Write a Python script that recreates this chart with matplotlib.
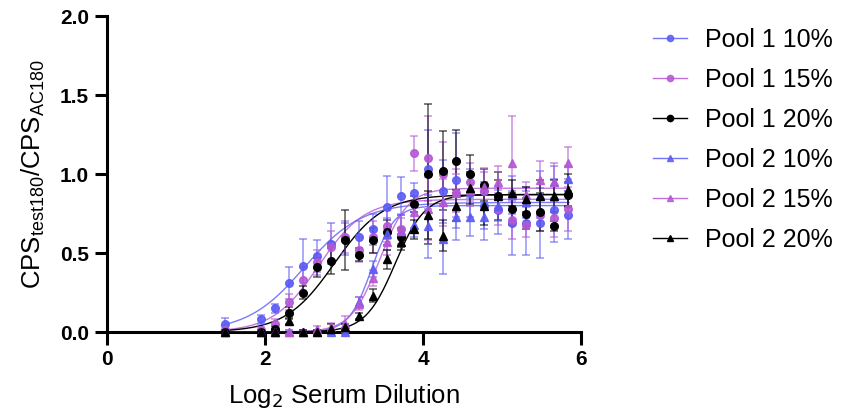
import numpy as np
import matplotlib.pyplot as plt

plt.rcParams['font.family'] = ['Liberation Sans', 'DejaVu Sans']

# log2 serum dilution (shared by all series)
x = [1.50, 1.95, 2.13, 2.30, 2.48, 2.66, 2.83, 3.01, 3.19, 3.37, 3.54, 3.72,
     3.89, 4.07, 4.25, 4.42, 4.60, 4.77, 4.95, 5.13, 5.30, 5.48, 5.66, 5.84]

labels = ['Pool 1 10%', 'Pool 1 15%', 'Pool 1 20%',
          'Pool 2 10%', 'Pool 2 15%', 'Pool 2 20%']

p1_10 = [0.05, 0.08, 0.15, 0.31, 0.42, 0.48, 0.56, 0.59, 0.60, 0.65, 0.79, 0.86,
         0.88, 1.03, 0.89, 0.96, 0.88, 0.80, 0.77, 0.69, 0.69, 0.69, 0.77, 0.74]
p1_15 = [0.01, 0.01, 0.05, 0.19, 0.33, 0.44, 0.54, 0.60, 0.52, 0.60, 0.67, 0.65,
         1.13, 1.10, 1.00, 0.88, 0.95, 0.89, 0.78, 0.71, 0.68, 0.74, 0.72, 0.78]
p1_20 = [0.00, 0.00, 0.02, 0.12, 0.25, 0.41, 0.45, 0.58, 0.49, 0.58, 0.63, 0.60,
         0.81, 1.00, 1.02, 1.08, 1.00, 0.93, 0.86, 0.78, 0.75, 0.76, 0.67, 0.87]
p2_10 = [0.00, 0.00, 0.00, 0.00, 0.00, 0.00, 0.00, 0.00, 0.19, 0.40, 0.62, 0.64,
         0.68, 0.67, 0.59, 0.73, 0.73, 0.73, 0.80, 0.87, 0.82, 0.87, 0.95, 0.97]
p2_15 = [0.00, 0.00, 0.00, 0.00, 0.00, 0.02, 0.03, 0.05, 0.18, 0.34, 0.57, 0.64,
         0.76, 0.78, 0.82, 0.88, 0.90, 0.92, 0.95, 1.07, 0.87, 0.96, 0.95, 1.07]
p2_20 = [0.00, 0.00, 0.00, 0.07, 0.00, 0.00, 0.02, 0.03, 0.10, 0.23, 0.46, 0.57,
         0.65, 0.74, 0.61, 0.80, 0.91, 0.80, 0.86, 0.88, 0.84, 0.86, 0.86, 0.90]

# error bars (SEM)
e1_10 = [0.04, 0.03, 0.03, 0.10, 0.17, 0.10, 0.13, 0.10, 0.10, 0.10, 0.20, 0.12,
         0.06, 0.25, 0.20, 0.30, 0.15, 0.15, 0.15, 0.20, 0.20, 0.22, 0.20, 0.15]
e1_15 = [0.02, 0.02, 0.03, 0.05, 0.08, 0.08, 0.10, 0.10, 0.08, 0.10, 0.10, 0.10,
         0.11, 0.27, 0.20, 0.15, 0.12, 0.12, 0.10, 0.12, 0.08, 0.10, 0.12, 0.14]
e1_20 = [0.01, 0.01, 0.02, 0.04, 0.04, 0.06, 0.08, 0.19, 0.04, 0.08, 0.08, 0.06,
         0.05, 0.44, 0.25, 0.20, 0.12, 0.10, 0.15, 0.10, 0.10, 0.12, 0.03, 0.08]
e2_10 = [0.01, 0.01, 0.01, 0.01, 0.01, 0.01, 0.01, 0.01, 0.03, 0.05, 0.10, 0.10,
         0.08, 0.20, 0.22, 0.15, 0.12, 0.15, 0.10, 0.12, 0.10, 0.15, 0.10, 0.08]
e2_15 = [0.01, 0.01, 0.01, 0.01, 0.01, 0.02, 0.03, 0.05, 0.04, 0.05, 0.08, 0.08,
         0.10, 0.20, 0.15, 0.12, 0.10, 0.12, 0.10, 0.30, 0.08, 0.12, 0.12, 0.10]
e2_20 = [0.01, 0.01, 0.01, 0.02, 0.01, 0.01, 0.03, 0.02, 0.02, 0.04, 0.06, 0.05,
         0.06, 0.15, 0.10, 0.10, 0.10, 0.12, 0.10, 0.08, 0.08, 0.10, 0.10, 0.10]

# four-parameter logistic fit parameters: bottom, top, logEC50, hill
fits = [
    [0.0, 0.82, 2.50, 1.2],
    [0.0, 0.84, 2.68, 1.5],
    [0.0, 0.87, 2.88, 1.4],
    [0.0, 0.80, 3.35, 3.0],
    [0.0, 0.91, 3.45, 2.4],
    [0.0, 0.87, 3.65, 2.3],
]

series = [p1_10, p1_15, p1_20, p2_10, p2_15, p2_20]
errors = [e1_10, e1_15, e1_20, e2_10, e2_15, e2_20]
colors = ['#5b5bf5', '#b457d4', '#000000', '#5b5bf5', '#b457d4', '#000000']
markers = ['o', 'o', 'o', '^', '^', '^']


def main():
    fig = plt.figure(figsize=(8.41, 4.19), dpi=100)
    ax = fig.add_axes([0.1272, 0.2076, 0.5636, 0.7542])

    xs = np.linspace(1.45, 5.85, 300)
    for y, err, fit, col, mk, lab in zip(series, errors, fits, colors, markers, labels):
        bottom, top, ec50, hill = fit
        curve = bottom + (top - bottom) / (1 + 10 ** ((ec50 - xs) * hill))
        lalpha = 1.0 if col == '#000000' else 0.8
        ax.plot(xs, curve, color=col, lw=1.0, alpha=lalpha, zorder=2)
        ax.errorbar(x, y, yerr=err, fmt='none', ecolor=col, elinewidth=1.2,
                    capsize=3, capthick=1.2, alpha=0.6, zorder=3, clip_on=False)
        ms = 5.5 if mk == 'o' else 6
        ax.plot(x, y, mk, color=col, ms=ms, alpha=0.9 if col != '#000000' else 1,
                zorder=4, clip_on=False)
        # legend proxy
        ax.plot([], [], marker=mk, color=col, lw=1.0, ms=4.5, label=lab,
                alpha=0.85 if col != '#000000' else 1)

    ax.set_xlim(0, 6)
    ax.set_ylim(0, 2.0)
    ax.set_xticks([0, 2, 4, 6])
    ax.set_yticks([0, 0.5, 1.0, 1.5, 2.0])
    ax.set_yticklabels(['0.0', '0.5', '1.0', '1.5', '2.0'])

    for s in ['top', 'right']:
        ax.spines[s].set_visible(False)
    for s in ['left', 'bottom']:
        ax.spines[s].set_linewidth(2.2)
        ax.spines[s].set_zorder(1)
    ax.tick_params(width=2.2, length=9, labelsize=15, pad=4)
    for t in ax.get_xticklabels() + ax.get_yticklabels():
        t.set_fontweight('bold')

    ax.set_xlabel(r'Log$_2$ Serum Dilution', fontsize=18.5, labelpad=9)
    ax.set_ylabel(r'$\mathregular{CPS_{test180}/CPS_{AC180}}$', fontsize=18.5, labelpad=9)

    ax.legend(loc='upper left', bbox_to_anchor=(653 / 841, 0.933),
              bbox_transform=fig.transFigure, frameon=False, fontsize=18,
              handlelength=1.36, labelspacing=0.64, handletextpad=0.72,
              borderpad=0, borderaxespad=0)

    plt.savefig('out.png', dpi=100)
    plt.close()


if __name__ == "__main__":
    main()
